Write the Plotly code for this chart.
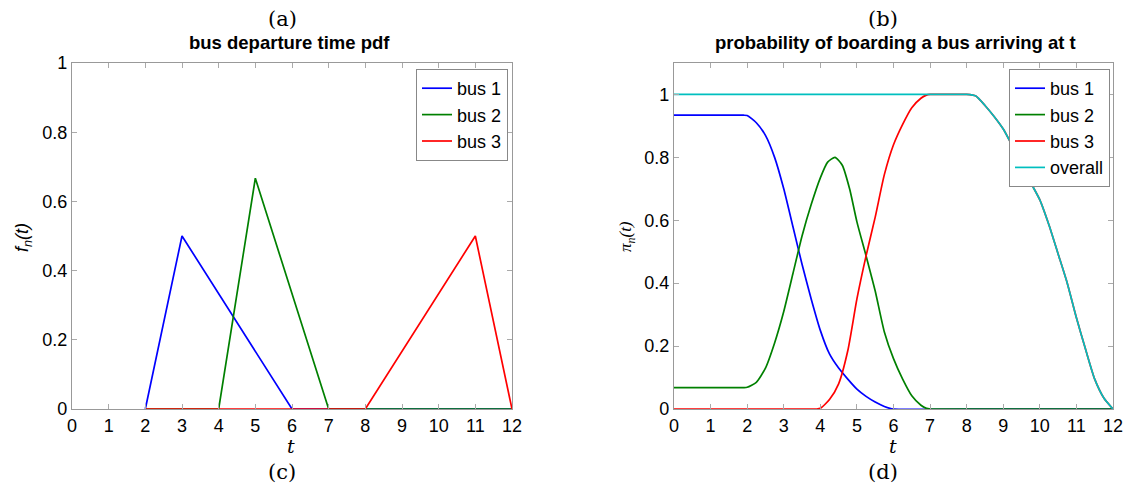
import plotly.graph_objects as go

W, H = 1127, 490

# ---- panel (c): departure time pdf ----
pdf_bus1_t = [2, 3, 6, 12]
pdf_bus1_y = [0, 0.5, 0, 0]
pdf_bus2_t = [2, 4, 5, 7, 12]
pdf_bus2_y = [0, 0, 0.667, 0, 0]
pdf_bus3_t = [2, 8, 11, 12]
pdf_bus3_y = [0, 0, 0.5, 0]

# ---- panel (d): boarding probability ----
pi_bus1_t = [0, 1, 1.9, 2, 2.25, 2.5, 2.75, 3.0, 3.25, 3.5, 3.75, 4.0, 4.25, 4.5, 4.75, 5.0, 5.25, 5.5, 5.75, 5.9, 6.0, 9, 12]
pi_bus1_y = [0.934, 0.934, 0.934, 0.933, 0.91, 0.87, 0.80, 0.70, 0.58, 0.46, 0.35, 0.25, 0.175, 0.13, 0.095, 0.063, 0.04, 0.022, 0.008, 0.002, 0.0, 0.0, 0.0]

pi_bus2_t = [0, 1, 1.9, 2, 2.25, 2.5, 2.75, 3.0, 3.25, 3.5, 3.75, 4.0, 4.2, 4.4, 4.6, 4.8, 5.0, 5.25, 5.5, 5.75, 6.0, 6.25, 6.5, 6.75, 6.9, 7.0, 9.5, 12]
pi_bus2_y = [0.068, 0.068, 0.068, 0.069, 0.085, 0.13, 0.21, 0.31, 0.43, 0.55, 0.65, 0.735, 0.785, 0.80, 0.775, 0.70, 0.595, 0.487, 0.375, 0.245, 0.16, 0.095, 0.042, 0.012, 0.002, 0.0, 0.0, 0.0]

pi_bus3_t = [0, 2, 3.9, 4.0, 4.25, 4.5, 4.75, 5.0, 5.25, 5.5, 5.75, 6.0, 6.25, 6.5, 6.75, 6.9, 7.0, 7.5, 8.0, 8.25, 8.5, 8.75, 9.0, 9.25, 9.5, 9.75, 10.0, 10.25, 10.5, 10.75, 11.0, 11.25, 11.5, 11.75, 12.0]
pi_bus3_y = [0, 0, 0, 0.002, 0.03, 0.08, 0.185, 0.35, 0.487, 0.61, 0.745, 0.84, 0.905, 0.958, 0.988, 0.998, 1.0, 1.0, 1.0, 0.995, 0.965, 0.93, 0.89, 0.836, 0.78, 0.72, 0.665, 0.585, 0.493, 0.40, 0.29, 0.19, 0.095, 0.035, 0.0]

pi_all_t = [0, 2, 4, 6, 7.9, 8.0, 8.25, 8.5, 8.75, 9.0, 9.25, 9.5, 9.75, 10.0, 10.25, 10.5, 10.75, 11.0, 11.25, 11.5, 11.75, 12.0]
pi_all_y = [1, 1, 1, 1, 1, 1, 0.995, 0.965, 0.93, 0.89, 0.836, 0.78, 0.72, 0.665, 0.585, 0.493, 0.40, 0.29, 0.19, 0.095, 0.035, 0.0]

x_ticks = list(range(0, 13))
y_ticks = [0, 0.2, 0.4, 0.6, 0.8, 1]
y_tick_text = ["0", "0.2", "0.4", "0.6", "0.8", "1"]

BLUE, GREEN, RED, CYAN = "#0000ff", "#008000", "#ff0000", "#00bfbf"
LW = 1.7
SANS = "Liberation Sans, Arial, sans-serif"
SERIF = "DejaVu Serif, serif"

fig = go.Figure()

def line(t, y, color, name, xa, ya, leg, shape="linear"):
    fig.add_trace(go.Scatter(x=t, y=y, mode="lines", name=name,
                             line=dict(color=color, width=LW, shape=shape, smoothing=0.6),
                             xaxis=xa, yaxis=ya, legend=leg))

line(pdf_bus1_t, pdf_bus1_y, BLUE, "bus 1", "x", "y", "legend")
line(pdf_bus2_t, pdf_bus2_y, GREEN, "bus 2", "x", "y", "legend")
line(pdf_bus3_t, pdf_bus3_y, RED, "bus 3", "x", "y", "legend")

line(pi_bus1_t, pi_bus1_y, BLUE, "bus 1", "x2", "y2", "legend2", "spline")
line(pi_bus2_t, pi_bus2_y, GREEN, "bus 2", "x2", "y2", "legend2", "spline")
line(pi_bus3_t, pi_bus3_y, RED, "bus 3", "x2", "y2", "legend2", "spline")
line(pi_all_t, pi_all_y, CYAN, "overall", "x2", "y2", "legend2", "spline")

def px_x(p):
    return p / W

def px_y(p):
    return 1 - p / H

axis_common = dict(showline=True, linecolor="#999999", linewidth=1.2, mirror="allticks",
                   ticks="inside", ticklen=5, tickcolor="#aaaaaa", showgrid=False,
                   zeroline=False, automargin=False,
                   tickfont=dict(family=SANS, size=18, color="black"))

top, bottom = 63, 409
leg_common = dict(xanchor="right", yanchor="top", bgcolor="white", bordercolor="#888888",
                  borderwidth=1, font=dict(family=SANS, size=18, color="black"),
                  tracegroupgap=0, itemwidth=30)
fig.update_layout(
    width=W, height=H, margin=dict(l=0, r=0, t=0, b=0, autoexpand=False),
    plot_bgcolor="white", paper_bgcolor="white",
    xaxis=dict(domain=[px_x(72), px_x(512)], range=[0, 12], tickvals=x_ticks, anchor="y", **axis_common),
    yaxis=dict(domain=[px_y(bottom), px_y(top)], range=[0, 1], tickvals=y_ticks, ticktext=y_tick_text, anchor="x", **axis_common),
    xaxis2=dict(domain=[px_x(674), px_x(1113)], range=[0, 12], tickvals=x_ticks, anchor="y2", **axis_common),
    yaxis2=dict(domain=[px_y(bottom), px_y(top)], range=[0, 1.1], tickvals=y_ticks, ticktext=y_tick_text, anchor="x2", **axis_common),
    legend=dict(x=px_x(508), y=px_y(69), **leg_common),
    legend2=dict(x=px_x(1110), y=px_y(69), **leg_common),
)

def ann(text, x, y, size, family, angle=0, bold=False):
    fig.add_annotation(text=f"<b>{text}</b>" if bold else text, x=px_x(x), y=px_y(y),
                       xref="paper", yref="paper", showarrow=False, textangle=angle,
                       xanchor="center", yanchor="middle",
                       font=dict(family=family, size=size, color="black"))

ann("(a)", 282, 19, 21, SERIF)
ann("(b)", 883, 19, 21, SERIF)
ann("(c)", 282, 472, 21, SERIF)
ann("(d)", 883, 472, 21, SERIF)
ann("bus departure time pdf", 289, 42, 18.5, SANS, bold=True)
ann("probability of boarding a bus arriving at t", 896, 42, 18.5, SANS, bold=True)
ann("<i>t</i>", 291, 446, 19, SERIF)
ann("<i>t</i>", 893, 446, 19, SERIF)
ann("<i>f</i><sub><i>n</i></sub><i>(t)</i>", 23, 237, 18, SANS, angle=-90)
ann("<i>π</i><sub><i>n</i></sub><i>(t)</i>", 627, 237, 17, "Liberation Serif, serif", angle=-90)

fig.write_html("out.html")
